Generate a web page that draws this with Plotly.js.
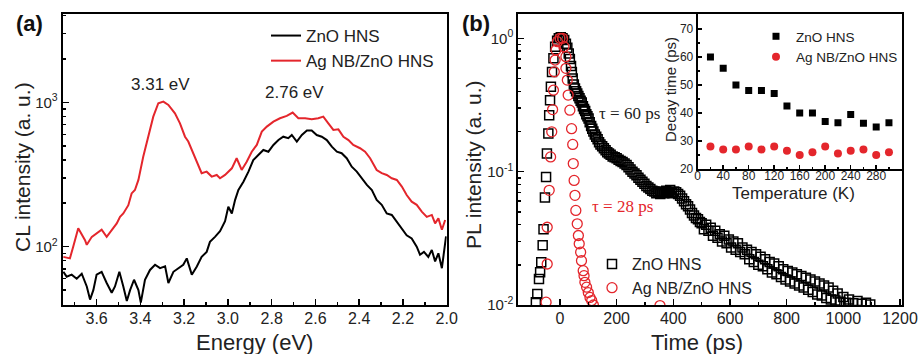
<!DOCTYPE html>
<html>
<head>
<meta charset="utf-8">
<script src="https://cdn.plot.ly/plotly-3.0.1.min.js"></script>
<style>html,body{margin:0;padding:0;background:#fff}#plot{width:919px;height:354px}</style>
</head>
<body>
<div id="plot"></div>
<script>
// ---------- Panel (a): CL spectra ----------
const E_zno = [3.752,3.737,3.714,3.691,3.668,3.645,3.630,3.615,3.600,3.577,3.554,3.531,3.516,3.496,3.478,3.462,3.447,3.429,3.409,3.398,3.379,3.356,3.333,3.310,3.287,3.272,3.249,3.227,3.204,3.188,3.165,3.142,3.120,3.097,3.082,3.059,3.036,3.013,2.998,2.982,2.967,2.952,2.929,2.906,2.884,2.861,2.838,2.815,2.792,2.769,2.747,2.724,2.708,2.685,2.662,2.639,2.617,2.594,2.571,2.548,2.525,2.502,2.480,2.457,2.434,2.411,2.388,2.365,2.342,2.320,2.297,2.274,2.251,2.228,2.205,2.183,2.160,2.137,2.122,2.104,2.084,2.068,2.053,2.038,2.022,2.012,2.003];
const I_zno = [67,62,64,60,65,53,43,50,64,67,56,48,53,67,53,42,50,59,50,41,59,69,75,71,73,56,67,71,75,83,64,73,85,92,108,117,128,150,189,170,211,247,282,331,398,432,468,455,507,548,578,564,594,535,594,637,637,594,578,548,493,455,444,410,358,331,298,268,247,211,195,170,166,149,134,120,114,100,88,92,85,95,79,90,71,95,118];

const E_ag = [3.752,3.722,3.707,3.684,3.653,3.645,3.622,3.600,3.577,3.554,3.531,3.508,3.493,3.478,3.455,3.440,3.425,3.409,3.387,3.364,3.341,3.318,3.295,3.272,3.242,3.219,3.196,3.181,3.158,3.142,3.120,3.097,3.074,3.051,3.036,3.013,3.005,2.982,2.960,2.937,2.914,2.891,2.868,2.845,2.822,2.792,2.762,2.731,2.704,2.678,2.647,2.617,2.587,2.564,2.541,2.518,2.495,2.472,2.449,2.427,2.396,2.373,2.350,2.320,2.297,2.274,2.251,2.228,2.205,2.183,2.160,2.137,2.114,2.091,2.068,2.053,2.038,2.022,2.007];
const I_ag = [85,83,100,134,111,103,117,124,131,117,131,145,161,170,194,234,247,290,420,578,796,986,1012,960,840,716,578,535,444,388,323,331,306,314,298,314,323,349,410,340,388,455,507,627,679,735,776,805,849,776,776,764,776,796,716,644,650,578,548,507,481,455,410,340,323,314,298,290,261,228,205,195,175,161,166,145,157,131,153];

// ---------- Panel (b): time-resolved PL ----------
const t_zno = [-85,-80,-74,-70,-66,-61,-58,-53,-49,-46,-41,-38,-35,-32,-28,-23,-17,-10,-4,3,9,15,21,26,31,35,39,42,45,49,53,57,61,65,69,73,77,81,85,89,93,97,101,105,110,114,118,123,128,133,138,143,149,155,161,167,173,179,186,193,200,207,214,221,228,235,242,249,256,263,270,277,284,291,298,305,312,319,326,333,340,347,354,361,368,375,382,389,396,403,410,417,424,431,438,445,452,459,466,473,480,487,494,500,508,516,524,532,540,548,556,564,572,580,588,596,604,612,620,628,636,644,652,660,668,676,684,692,700,708,716,724,732,740,748,756,764,772,780,788,796,804,812,820,828,836,844,852,860,868,876,884,892,900,908,916,924,932,940,948,956,964,972,980,990,1000,1010,1020,1035,1050,1065,1080,1095];
const pl_zno = [0.0105,0.0121,0.0157,0.0176,0.0209,0.028,0.037,0.064,0.091,0.137,0.193,0.265,0.343,0.433,0.56,0.71,0.865,0.96,1.0,1.02,1.0,0.97,0.91,0.85,0.77,0.70,0.62,0.56,0.50,0.45,0.42,0.40,0.385,0.37,0.355,0.34,0.33,0.31,0.295,0.285,0.27,0.26,0.25,0.235,0.22,0.21,0.20,0.19,0.183,0.175,0.166,0.16,0.155,0.15,0.145,0.14,0.137,0.134,0.13,0.128,0.126,0.123,0.12,0.118,0.115,0.112,0.108,0.104,0.10,0.097,0.094,0.09,0.087,0.084,0.081,0.078,0.076,0.074,0.072,0.071,0.069,0.070,0.068,0.071,0.069,0.072,0.070,0.073,0.069,0.071,0.070,0.068,0.066,0.063,0.060,0.057,0.055,0.052,0.049,0.047,0.045,0.044,0.042,0.041,0.037,0.040,0.036,0.038,0.033,0.036,0.032,0.034,0.030,0.033,0.029,0.031,0.027,0.030,0.026,0.029,0.025,0.027,0.024,0.026,0.022,0.025,0.021,0.024,0.020,0.023,0.0195,0.022,0.0185,0.021,0.0175,0.0205,0.017,0.0195,0.0162,0.0185,0.0155,0.018,0.015,0.0175,0.0145,0.017,0.014,0.0165,0.0135,0.016,0.013,0.0155,0.0125,0.015,0.012,0.0145,0.0118,0.014,0.0113,0.0135,0.011,0.0128,0.0108,0.0122,0.0106,0.0115,0.0104,0.011,0.0103,0.0107,0.0102,0.0104,0.0101];

const t_ag = [-49,-45,-45,-38,-33,-29,-26,-23,-20,-17,-14,-9,0,9,14,21,21,26,29,35,41,45,47,50,53,56,61,65,68,73,76,82,85,88,94,100,106,112,118,353];
const pl_ag = [0.0105,0.0203,0.0383,0.0724,0.129,0.199,0.292,0.408,0.561,0.687,0.817,0.944,1.0,1.0,0.865,0.728,0.595,0.486,0.375,0.289,0.21,0.16,0.115,0.086,0.0664,0.0512,0.0406,0.0332,0.0288,0.0249,0.0215,0.0181,0.0166,0.0148,0.0136,0.0124,0.0114,0.0108,0.0100,0.0099];

// ---------- Inset: decay time vs temperature ----------
const temp = [20,40,60,80,100,120,140,160,180,200,220,240,260,280,300];
const tau_zno = [60,56,50,48,48,47,42.5,40,40,37,36.5,39.5,36.3,35,36.5];
const tau_ag = [28,27,27,28,27,28,26.5,25,26,28,25.5,26.5,27,25,26];

const W = 919, H = 354;
const PX = p => p / W, PY = p => 1 - p / H;
const FONT = 'Liberation Sans, Arial, sans-serif';
const RED = '#e4262c';

const traces = [
  {x: E_zno, y: I_zno, xaxis: 'x', yaxis: 'y', type: 'scatter', mode: 'lines', name: 'ZnO HNS',
   line: {color: '#000', width: 2}, legend: 'legend'},
  {x: E_ag, y: I_ag, xaxis: 'x', yaxis: 'y', type: 'scatter', mode: 'lines', name: 'Ag NB/ZnO HNS',
   line: {color: RED, width: 2}, legend: 'legend'},
  {x: t_zno, y: pl_zno, xaxis: 'x2', yaxis: 'y2', type: 'scatter', mode: 'markers', name: 'ZnO HNS',
   marker: {symbol: 'square-open', size: 9, color: '#000', line: {width: 1.5}}, legend: 'legend2'},
  {x: t_ag, y: pl_ag, xaxis: 'x2', yaxis: 'y2', type: 'scatter', mode: 'markers', name: 'Ag NB/ZnO HNS',
   marker: {symbol: 'circle-open', size: 10, color: RED, line: {width: 1.3}}, legend: 'legend2'},
  {x: temp, y: tau_zno, xaxis: 'x3', yaxis: 'y3', type: 'scatter', mode: 'markers', name: 'ZnO HNS',
   marker: {symbol: 'square', size: 7, color: '#000'}, legend: 'legend3'},
  {x: temp, y: tau_ag, xaxis: 'x3', yaxis: 'y3', type: 'scatter', mode: 'markers', name: 'Ag NB/ZnO HNS',
   marker: {symbol: 'circle', size: 8, color: RED}, legend: 'legend3'}
];

const axBase = {showline: true, linecolor: '#000', linewidth: 2, mirror: true, ticks: 'inside',
  ticklen: 6, tickwidth: 1.5, tickcolor: '#000', showgrid: false, zeroline: false,
  tickfont: {family: FONT, size: 16, color: '#222'}};

function logMinor(lo, hi) {
  const v = [];
  for (let d = lo; d <= hi; d++) for (let m = 2; m <= 9; m++) v.push(m * Math.pow(10, d));
  return v;
}

const layout = {
  width: W, height: H, margin: {l: 0, r: 0, t: 0, b: 0},
  paper_bgcolor: '#fff', plot_bgcolor: 'rgba(0,0,0,0)',
  font: {family: FONT, color: '#222'},
  xaxis: Object.assign({}, axBase, {domain: [PX(62.7), PX(446.7)], anchor: 'y', range: [3.755, 2.0],
    tickvals: [3.6,3.4,3.2,3.0,2.8,2.6,2.4,2.2,2.0], ticktext: ['3.6','3.4','3.2','3.0','2.8','2.6','2.4','2.2','2.0'],
    ticklabelstandoff: -2,
    minor: {tickvals: [3.7,3.5,3.3,3.1,2.9,2.7,2.5,2.3,2.1], ticklen: 3, ticks: 'inside', tickcolor: '#000'}}),
  yaxis: Object.assign({}, axBase, {domain: [PY(305), PY(14.3)], anchor: 'x', type: 'log', range: [1.596, 3.61],
    tickvals: [100, 1000], ticktext: ['10<sup>2</sup>', '10<sup>3</sup>'], tickfont: {family: FONT, size: 15, color: '#222'},
    minor: {tickvals: logMinor(1, 3), ticklen: 3, ticks: 'inside', tickcolor: '#000'}}),
  xaxis2: Object.assign({}, axBase, {domain: [PX(518.3), PX(901.7)], anchor: 'y2', range: [-147, 1206],
    tickvals: [0,200,400,600,800,1000,1200], ticklabelstandoff: -2,
    minor: {tickvals: [-100,100,300,500,700,900,1100], ticklen: 3, ticks: 'inside', tickcolor: '#000'}}),
  yaxis2: Object.assign({}, axBase, {domain: [PY(305), PY(14.3)], anchor: 'x2', type: 'log', range: [-2, 0.18],
    tickvals: [0.01, 0.1, 1], ticktext: ['10<sup>-2</sup>', '10<sup>-1</sup>', '10<sup>0</sup>'], tickfont: {family: FONT, size: 15, color: '#222'},
    minor: {tickvals: logMinor(-2, 0), ticklen: 3, ticks: 'inside', tickcolor: '#000'}}),
  xaxis3: Object.assign({}, axBase, {domain: [PX(697.7), PX(901.7)], anchor: 'y3', range: [0, 320],
    tickvals: [0,40,80,120,160,200,240,280], ticklen: 4, ticklabelstandoff: -5,
    tickfont: {family: FONT, size: 12, color: '#222'},
    minor: {tickvals: [20,60,100,140,180,220,260,300], ticklen: 2, ticks: 'inside', tickcolor: '#000'}}),
  yaxis3: Object.assign({}, axBase, {domain: [PY(169), PY(14.3)], anchor: 'x3', range: [20, 75.25],
    tickvals: [20,30,40,50,60,70], ticklen: 4, tickfont: {family: FONT, size: 12, color: '#222'},
    minor: {tickvals: [25,35,45,55,65,75], ticklen: 2, ticks: 'inside', tickcolor: '#000'}}),
  legend: {x: PX(266), y: PY(18), xanchor: 'left', yanchor: 'top', bgcolor: 'rgba(0,0,0,0)',
    font: {family: FONT, size: 17, color: '#222'}, tracegroupgap: 0, itemwidth: 30},
  legend2: {x: PX(592), y: PY(247), xanchor: 'left', yanchor: 'top', bgcolor: 'rgba(0,0,0,0)',
    font: {family: FONT, size: 16, color: '#222'}, tracegroupgap: 0, itemwidth: 30},
  legend3: {x: PX(756), y: PY(21), xanchor: 'left', yanchor: 'top', bgcolor: 'rgba(0,0,0,0)',
    font: {family: FONT, size: 13.5, color: '#222'}, tracegroupgap: 0, itemwidth: 30},
  shapes: [
    {type: 'rect', xref: 'paper', yref: 'paper', x0: PX(697.7), x1: PX(901.7), y0: PY(169), y1: PY(14.3),
     fillcolor: '#fff', line: {width: 0}, layer: 'below'}
  ],
  annotations: [
    {text: '<b>(a)</b>', x: PX(29), y: PY(23), font: {size: 22, family: FONT, color: '#111'}},
    {text: '<b>(b)</b>', x: PX(476), y: PY(23), font: {size: 22, family: FONT, color: '#111'}},
    {text: 'CL intensity (a. u.)', x: PX(23), y: PY(167), textangle: -90, font: {size: 21, family: FONT, color: '#222'}},
    {text: 'Energy (eV)', x: PX(255), y: PY(342), font: {size: 22, family: FONT, color: '#222'}},
    {text: 'PL intensity (a. u.)', x: PX(473), y: PY(165), textangle: -90, font: {size: 21, family: FONT, color: '#222'}},
    {text: 'Time (ps)', x: PX(697), y: PY(342), font: {size: 22, family: FONT, color: '#222'}},
    {text: 'Decay time (ps)', x: PX(670), y: PY(90), textangle: -90, font: {size: 15, family: FONT, color: '#222'}},
    {text: 'Temperature (K)', x: PX(793), y: PY(194), font: {size: 17, family: FONT, color: '#222'}},
    {text: '3.31 eV', x: PX(160), y: PY(85), font: {size: 17, family: FONT, color: '#222'}},
    {text: '2.76 eV', x: PX(294), y: PY(92), font: {size: 17, family: FONT, color: '#222'}},
    {text: 'τ = 60 ps', x: PX(629), y: PY(113), font: {size: 17, family: 'Liberation Serif, Times New Roman, serif', color: '#222'}},
    {text: 'τ = 28 ps', x: PX(622), y: PY(206), font: {size: 17, family: 'Liberation Serif, Times New Roman, serif', color: RED}}
  ].map(a => Object.assign({xref: 'paper', yref: 'paper', showarrow: false, xanchor: 'center', yanchor: 'middle'}, a))
};

Plotly.newPlot('plot', traces, layout, {staticPlot: true, displayModeBar: false});
</script>
</body>
</html>
